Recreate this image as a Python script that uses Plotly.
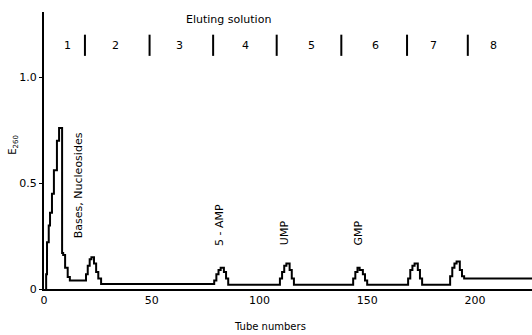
import plotly.graph_objects as go

# Elution profile (step trace): tube number where each level starts, and E260 level
tubes = [0.9, 1.0, 1.4, 2.2, 2.8, 3.7, 4.6, 6.0, 7.0, 8.4, 8.9, 9.8, 11.0, 12.0,
         19.5, 20.3, 21.2, 22.0, 23.2, 24.2, 25.2, 26.5,
         79.0, 80.0, 81.0, 82.0, 83.5, 84.5, 85.5,
         109.5, 110.5, 111.5, 112.5, 114.0, 115.0, 116.0,
         143.5, 144.5, 145.5, 146.5, 148.0, 149.0, 150.0,
         169.0, 170.0, 171.0, 172.0, 173.5, 174.5, 175.5,
         188.5, 189.5, 190.5, 191.5, 193.0, 194.0, 195.0, 228.0]
e260 = [0.0, 0.07, 0.22, 0.30, 0.36, 0.45, 0.56, 0.70, 0.76, 0.17, 0.16, 0.10, 0.057, 0.04,
        0.07, 0.11, 0.14, 0.15, 0.12, 0.08, 0.05, 0.024,
        0.04, 0.07, 0.09, 0.10, 0.08, 0.05, 0.02,
        0.05, 0.08, 0.11, 0.12, 0.09, 0.05, 0.02,
        0.05, 0.08, 0.10, 0.09, 0.07, 0.04, 0.02,
        0.05, 0.09, 0.11, 0.12, 0.09, 0.05, 0.02,
        0.06, 0.10, 0.12, 0.13, 0.09, 0.06, 0.05, 0.05]

# Eluting solution boundaries and labels
sep_tubes = [19.0, 49.0, 78.5, 108.0, 138.0, 168.5, 196.7]
sol_labels = ["1", "2", "3", "4", "5", "6", "7", "8"]
sol_label_x = [10.7, 33.0, 63.0, 93.3, 124.3, 154.0, 181.0, 208.4]

# Peak labels
peak_names = ["Bases, Nucleosides", "5 - AMP", "UMP", "GMP"]
peak_x = [15.8, 81.5, 112.0, 146.0]
peak_y = [0.49, 0.30, 0.265, 0.265]

x_ticks = [0, 50, 100, 150, 200]
y_ticks = [0, 0.5, 1.0]
y_tick_text = ["0", "0.5", "1.0"]

FONT = "DejaVu Sans"
fig = go.Figure()

fig.add_trace(go.Scatter(x=tubes, y=e260, mode="lines", line=dict(color="black", width=2, shape="hv"),
                         showlegend=False, hoverinfo="skip"))

sx, sy = [], []
for t in sep_tubes:
    sx += [t, t, None]
    sy += [1.10, 1.20, None]
fig.add_trace(go.Scatter(x=sx, y=sy, mode="lines", line=dict(color="black", width=2),
                         showlegend=False, hoverinfo="skip"))

for lab, lx in zip(sol_labels, sol_label_x):
    fig.add_annotation(x=lx, y=1.15, xref="x", yref="y", text=lab, showarrow=False,
                       font=dict(family=FONT, size=11, color="black"))

for name, px, py in zip(peak_names, peak_x, peak_y):
    fig.add_annotation(x=px, y=py, xref="x", yref="y", text=name, textangle=-90, showarrow=False,
                       font=dict(family=FONT, size=11, color="black"))

fig.add_annotation(x=85.6, y=1.27, xref="x", yref="y", text="Eluting solution", showarrow=False,
                   font=dict(family=FONT, size=11, color="black"))
fig.add_annotation(x=105, y=-0.134, xref="x", yref="paper", yanchor="middle", text="Tube numbers",
                   showarrow=False, font=dict(family=FONT, size=10, color="black"))
fig.add_annotation(x=-0.062, y=0.52, xref="paper", yref="paper", xanchor="center", yanchor="middle",
                   text="E<sub>260</sub>", textangle=-90, showarrow=False,
                   font=dict(family=FONT, size=10, color="black"))

fig.update_layout(
    width=532, height=335, margin=dict(l=44, r=0, t=12, b=46),
    plot_bgcolor="white", paper_bgcolor="white",
    xaxis=dict(range=[0, 226.5], tickvals=x_ticks, showgrid=False, zeroline=False,
               showline=True, linecolor="black", linewidth=1.5, ticks="",
               tickfont=dict(family=FONT, size=11, color="black")),
    yaxis=dict(range=[0, 1.307], tickvals=y_ticks, ticktext=y_tick_text, showgrid=False,
               zeroline=False, showline=True, linecolor="black", linewidth=2, ticks="outside",
               ticklen=3, tickcolor="black", tickfont=dict(family=FONT, size=11, color="black")),
)

fig.write_html("out.html")
